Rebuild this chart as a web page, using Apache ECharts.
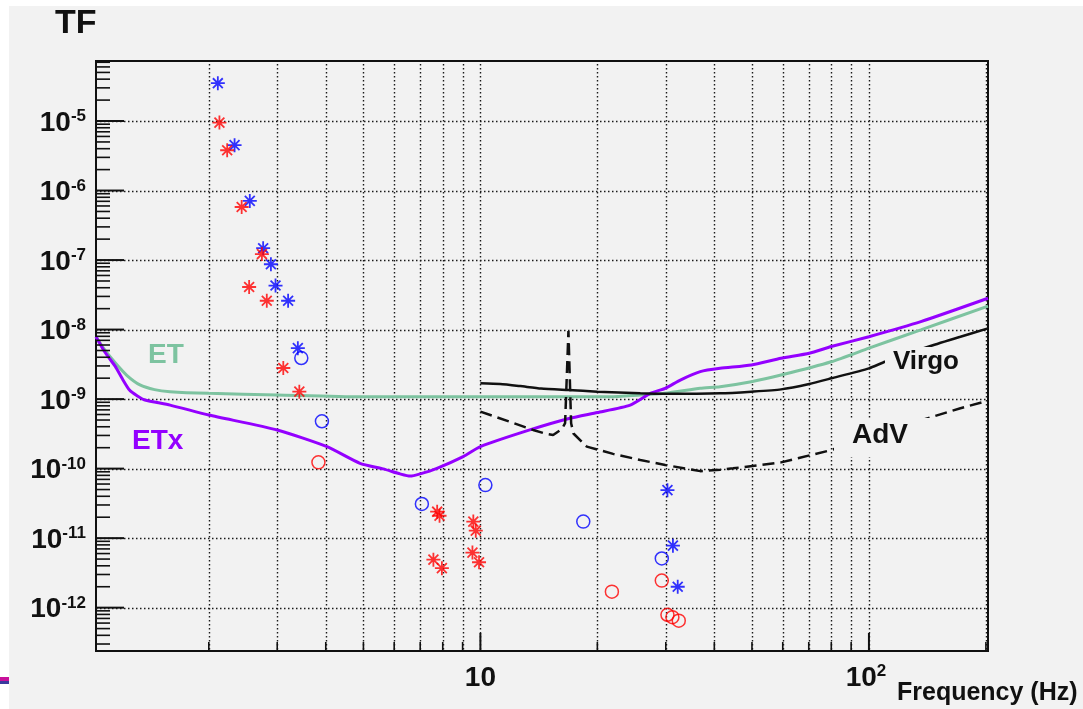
<!DOCTYPE html>
<html>
<head>
<meta charset="utf-8">
<script src="https://cdn.jsdelivr.net/npm/echarts@6/dist/echarts.min.js"></script>
<style>
  html, body { margin: 0; padding: 0; background: #fff; }
  #tf { width: 1083px; height: 709px; }
</style>
</head>
<body>
<div id="tf"></div>
<script>
// axis range
var xMin = 1.025, xMax = 202.5
var yMin = 2.38e-13, yMax = 7.3e-5

// ticks and labels
var xMajorTicks = [10, 100]
var xMajorBase = ['10', '10']
var xMajorExp = ['', '2']
var xMinorTicks = [2, 3, 4, 5, 6, 7, 8, 9, 20, 30, 40, 50, 60, 70, 80, 90, 200]
var yMajorTicks = [1e-12, 1e-11, 1e-10, 1e-9, 1e-8, 1e-7, 1e-6, 1e-5]
var yMajorExp = ['-12', '-11', '-10', '-9', '-8', '-7', '-6', '-5']

// ET
var etFreq = [1.025, 1.08, 1.15, 1.23, 1.33, 1.45, 1.59, 2.0, 3.0, 4.9, 10, 21.6, 25.8, 29.9, 36.8, 41.4, 49.8, 59.4, 80, 100, 136, 202.5]
var etTF = [7.9e-9, 5.1e-9, 3.3e-9, 2.2e-9, 1.6e-9, 1.37e-9, 1.28e-9, 1.21e-9, 1.15e-9, 1.08e-9, 1.08e-9, 1.08e-9, 1.15e-9, 1.21e-9, 1.43e-9, 1.51e-9, 1.78e-9, 2.22e-9, 3.45e-9, 5.4e-9, 9.9e-9, 2.18e-8]

// ETx
var etxFreq = [1.025, 1.08, 1.15, 1.195, 1.25, 1.31, 1.37, 1.59, 2.0, 3.0, 4.03, 4.9, 5.62, 6.21, 6.59, 7.0, 7.73, 9.03, 10, 13.4, 17.0, 20, 24.3, 27.4, 29.9, 32.7, 36.8, 41.4, 49.8, 59.4, 70.2, 80, 100, 136, 202.5]
var etxTF = [7.9e-9, 4.76e-9, 2.93e-9, 2.01e-9, 1.35e-9, 1.11e-9, 9.7e-10, 8.2e-10, 5.9e-10, 3.6e-10, 2.07e-10, 1.19e-10, 9.9e-11, 8.4e-11, 7.8e-11, 8.4e-11, 1.01e-10, 1.49e-10, 2.07e-10, 3.6e-10, 5.3e-10, 6.4e-10, 8.2e-10, 1.21e-9, 1.43e-9, 1.88e-9, 2.48e-9, 2.77e-9, 3.1e-9, 3.87e-9, 4.56e-9, 5.7e-9, 7.9e-9, 1.3e-8, 2.82e-8]

// Virgo
var virgoFreq = [10, 11.24, 12.66, 14.33, 16.82, 20, 25.8, 29.9, 41.4, 49.8, 59.4, 70.2, 80, 100, 110, 144, 172, 202.5]
var virgoTF = [1.69e-9, 1.65e-9, 1.54e-9, 1.42e-9, 1.35e-9, 1.28e-9, 1.21e-9, 1.19e-9, 1.21e-9, 1.28e-9, 1.38e-9, 1.65e-9, 1.99e-9, 2.77e-9, 3.45e-9, 5.8e-9, 7.9e-9, 1.04e-8]

// AdV
var advFreq = [10, 11.93, 13.67, 14.68, 15.39, 16.21, 16.52, 16.85, 17.12, 17.36, 18.79, 21.96, 25.8, 29.9, 36.8, 41.4, 44.7, 59.4, 80, 107, 146, 172, 202.5]
var advTF = [6.6e-10, 4.7e-10, 3.6e-10, 3.2e-10, 3.05e-10, 3.7e-10, 4.5e-10, 9.5e-9, 4.5e-10, 3.2e-10, 2.07e-10, 1.63e-10, 1.33e-10, 1.13e-10, 9.2e-11, 9.6e-11, 1.01e-10, 1.23e-10, 1.85e-10, 3.26e-10, 5.6e-10, 7.4e-10, 9.5e-10]

// measured points
var blueStarFreq = [2.11, 2.33, 2.55, 2.76, 2.89, 2.97, 3.20, 3.39, 30.3, 31.3, 32.2]
var blueStarTF = [3.5e-5, 4.5e-6, 7.1e-7, 1.48e-7, 8.7e-8, 4.3e-8, 2.6e-8, 5.4e-9, 4.9e-11, 7.8e-12, 2.0e-12]
var redStarFreq = [2.13, 2.23, 2.43, 2.74, 2.54, 2.82, 3.11, 3.42, 7.74, 7.85, 9.59, 9.73, 7.57, 7.96, 9.54, 9.92]
var redStarTF = [9.5e-6, 3.8e-6, 5.8e-7, 1.22e-7, 4.1e-8, 2.6e-8, 2.8e-9, 1.28e-9, 2.4e-11, 2.1e-11, 1.73e-11, 1.28e-11, 4.9e-12, 3.7e-12, 6.2e-12, 4.5e-12]
var blueCircleFreq = [3.46, 3.91, 7.07, 10.3, 18.4, 29.3]
var blueCircleTF = [3.9e-9, 4.8e-10, 3.1e-11, 5.8e-11, 1.73e-11, 5.1e-12]
var redCircleFreq = [3.83, 21.8, 29.3, 30.3, 31.2, 32.4]
var redCircleTF = [1.23e-10, 1.7e-12, 2.45e-12, 7.9e-13, 7.3e-13, 6.5e-13]

var FONT = '"Liberation Sans", Arial, Helvetica, sans-serif'
var GREEN = '#7dc3a0'
var PURPLE = '#9400ff'
var STAR = 'path://M0,6L12,6M6,0L6,12M1.76,1.76L10.24,10.24M10.24,1.76L1.76,10.24'

// minor ticks on y: 2..9 times each decade inside the range
var yMinorTicks = []
for (var e = -13; e <= -5; e++) {
  for (var m = 2; m <= 9; m++) {
    var t = m * Math.pow(10, e)
    if (t > yMin && t < yMax) yMinorTicks.push(t)
  }
}

function pairs(xs, ys) {
  var out = []
  for (var i = 0; i < xs.length; i++) out.push([xs[i], ys[i]])
  return out
}

function crisp(v) {
  return Math.round(v) + 0.5
}

// dotted grid lines, placed through the axes
function gridLines(vals, dir) {
  return {
    type: 'custom', z: 1, silent: true,
    data: vals.map(function (v) { return dir === 'x' ? [v, yMin] : [xMin, v] }),
    renderItem: function (params, api) {
      var cs = params.coordSys
      var p = api.coord([api.value(0), api.value(1)])
      var shape = dir === 'x'
        ? { x1: crisp(p[0]), y1: cs.y + 3, x2: crisp(p[0]), y2: cs.y + cs.height }
        : { x1: cs.x, y1: crisp(p[1]), x2: cs.x + cs.width, y2: crisp(p[1]) }
      return { type: 'line', shape: shape, style: { stroke: '#1a1a1a', lineWidth: 1.4, lineDash: [1.5, 2.5] } }
    }
  }
}

// inward ticks
function ticks(vals, dir, len, width) {
  return {
    type: 'custom', z: 6, silent: true,
    data: vals.map(function (v) { return dir === 'x' ? [v, yMin] : [xMin, v] }),
    renderItem: function (params, api) {
      var cs = params.coordSys
      var p = api.coord([api.value(0), api.value(1)])
      var shape = dir === 'x'
        ? { x1: p[0], y1: cs.y + cs.height, x2: p[0], y2: cs.y + cs.height - len }
        : { x1: cs.x, y1: p[1], x2: cs.x + len, y2: p[1] }
      return { type: 'line', shape: shape, style: { stroke: '#111', lineWidth: width } }
    }
  }
}

var labelRich = {
  b: { fontSize: 28, fontWeight: 'bold', fontFamily: FONT, fill: '#111', lineHeight: 30 },
  s: { fontSize: 17, fontWeight: 'bold', fontFamily: FONT, fill: '#111', lineHeight: 20, verticalAlign: 'top' }
}

var yLabels = {
  type: 'custom', z: 6, silent: true,
  data: yMajorTicks.map(function (v) { return [xMin, v] }),
  renderItem: function (params, api) {
    var cs = params.coordSys
    var p = api.coord([api.value(0), api.value(1)])
    return {
      type: 'text', x: cs.x - 10, y: p[1] + 2,
      style: { text: '{b|10}{s|' + yMajorExp[params.dataIndex] + '}', align: 'right', verticalAlign: 'middle', rich: labelRich }
    }
  }
}

var xLabels = {
  type: 'custom', z: 6, silent: true,
  data: xMajorTicks.map(function (v) { return [v, yMin] }),
  renderItem: function (params, api) {
    var cs = params.coordSys
    var p = api.coord([api.value(0), api.value(1)])
    var exp = xMajorExp[params.dataIndex]
    var txt = '{b|' + xMajorBase[params.dataIndex] + '}' + (exp ? '{s|' + exp + '}' : '')
    return {
      type: 'text', x: p[0] - (exp ? 3 : 0), y: cs.y + cs.height + 27,
      style: { text: txt, align: 'center', verticalAlign: 'middle', rich: labelRich }
    }
  }
}

function curve(name, xs, ys, color, width, dashed, smooth) {
  return {
    name: name, type: 'line', z: 3, data: pairs(xs, ys),
    showSymbol: false, symbol: 'none', smooth: smooth, silent: true,
    lineStyle: { color: color, width: width, type: dashed ? [12, 6] : 'solid' }
  }
}

function points(name, xs, ys, color, symbol, size) {
  return {
    name: name, type: 'scatter', z: 4, data: pairs(xs, ys),
    symbol: symbol, symbolSize: size, silent: true,
    itemStyle: { color: symbol === 'circle' ? 'rgba(0,0,0,0)' : color, borderColor: color, borderWidth: symbol === 'circle' ? 1.5 : 1.8 }
  }
}

var option = {
  backgroundColor: '#f2f2f2',
  animation: false,
  grid: { left: 96, top: 61, width: 892, height: 590, show: true, borderColor: '#111', borderWidth: 2, backgroundColor: 'transparent' },
  xAxis: {
    type: 'log', logBase: 10, min: xMin, max: xMax,
    axisLine: { show: false }, axisTick: { show: false }, axisLabel: { show: false }, splitLine: { show: false }
  },
  yAxis: {
    type: 'log', logBase: 10, min: yMin, max: yMax,
    axisLine: { show: false }, axisTick: { show: false }, axisLabel: { show: false }, splitLine: { show: false }
  },
  graphic: [
    { type: 'rect', z: 100, shape: { x: 0, y: 0, width: 9, height: 709 }, style: { fill: '#fff' } },
    { type: 'rect', z: 100, shape: { x: 0, y: 0, width: 1083, height: 6 }, style: { fill: '#fff' } },
    { type: 'rect', z: 101, shape: { x: 0, y: 677, width: 9, height: 4 }, style: { fill: '#c8119a' } },
    { type: 'rect', z: 101, shape: { x: 0, y: 681, width: 9, height: 3 }, style: { fill: '#3a3a9e' } },
    { type: 'text', z: 100, x: 55, y: 24, style: { text: 'TF', font: 'bold 34px ' + FONT, fill: '#111', verticalAlign: 'middle' } },
    { type: 'text', z: 100, x: 897, y: 693, style: { text: 'Frequency (Hz)', font: 'bold 25px ' + FONT, fill: '#111', verticalAlign: 'middle' } },
    { type: 'text', z: 100, x: 148, y: 355, style: { text: 'ET', font: 'bold 28px ' + FONT, fill: GREEN, verticalAlign: 'middle' } },
    { type: 'text', z: 100, x: 132, y: 441, style: { text: 'ETx', font: 'bold 28px ' + FONT, fill: PURPLE, verticalAlign: 'middle' } },
    { type: 'rect', z: 99, shape: { x: 885, y: 347, width: 76, height: 31 }, style: { fill: '#f2f2f2' } },
    { type: 'text', z: 100, x: 893, y: 362, style: { text: 'Virgo', font: 'bold 26px ' + FONT, fill: '#111', verticalAlign: 'middle' } },
    { type: 'rect', z: 99, shape: { x: 834, y: 418, width: 97, height: 39 }, style: { fill: '#f2f2f2' } },
    { type: 'text', z: 100, x: 852, y: 435, style: { text: 'AdV', font: 'bold 28px ' + FONT, fill: '#111', verticalAlign: 'middle' } }
  ],
  series: [
    gridLines(xMajorTicks.concat(xMinorTicks), 'x'),
    gridLines(yMajorTicks, 'y'),
    ticks(xMajorTicks, 'x', 18, 2),
    ticks(xMinorTicks, 'x', 9, 1.6),
    ticks(yMajorTicks, 'y', 28, 2),
    ticks(yMinorTicks, 'y', 14, 1.6),
    yLabels,
    xLabels,
    curve('ET', etFreq, etTF, GREEN, 3, false, 0.2),
    curve('ETx', etxFreq, etxTF, PURPLE, 3, false, 0.2),
    curve('Virgo', virgoFreq, virgoTF, '#111', 2.5, false, 0.2),
    curve('AdV', advFreq, advTF, '#111', 2.5, true, false),
    points('blue star', blueStarFreq, blueStarTF, '#0000ff', STAR, 14),
    points('red star', redStarFreq, redStarTF, '#ff0000', STAR, 14),
    points('blue circle', blueCircleFreq, blueCircleTF, '#0000ff', 'circle', 13),
    points('red circle', redCircleFreq, redCircleTF, '#ff0000', 'circle', 13)
  ]
}

var chart = echarts.init(document.getElementById('tf'))
chart.setOption(option)
</script>
</body>
</html>
